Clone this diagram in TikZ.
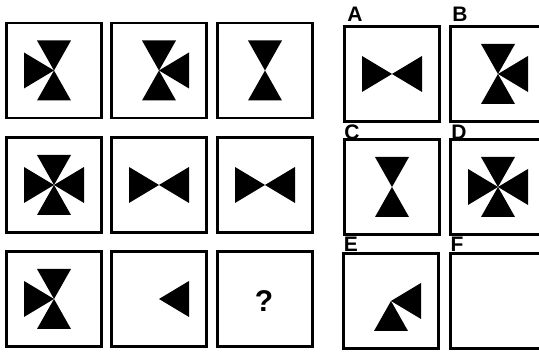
\documentclass[tikz,border=0pt]{standalone}
\usepackage{fontspec}
\setmainfont{Liberation Sans}
\usetikzlibrary{positioning}

% the four triangles round one apex
\tikzset{
  tritop/.pic={\fill (-17,-30) -- (17,-30) -- (0,0) -- cycle;},
  tribot/.pic={\fill (-17,30) -- (17,30) -- (0,0) -- cycle;},
  trileft/.pic={\fill (-30,-18) -- (-30,18) -- (0,0) -- cycle;},
  triright/.pic={\fill (30,-18) -- (30,18) -- (0,0) -- cycle;}
}

\begin{document}
\begin{tikzpicture}[x=1pt, y=-1pt,
  cell/.style={draw, line width=2.2pt, minimum size=95pt, inner sep=0pt},
  opt/.style={font=\bfseries\fontsize{21}{21}\selectfont, inner sep=0pt},
  ask/.style={font=\bfseries\fontsize{30}{30}\selectfont, inner sep=0pt}]
  \useasboundingbox (0,0) rectangle (539,352);
  \clip (0,0) rectangle (539,352);
  % the 3x3 grid
  \node[cell] (r1c1) at (54,70.5)  {};
  \node[cell] (r1c2) at (159,70.5) {};
  \node[cell] (r1c3) at (265,70.5) {};
  \node[cell] (r2c1) at (54,185)   {};
  \node[cell] (r2c2) at (159,185)  {};
  \node[cell] (r2c3) at (265,185)  {};
  \node[cell] (r3c1) at (54,299)   {};
  \node[cell] (r3c2) at (159,299)  {};
  \node[cell] (r3c3) at (265,299)  {};
  \node[ask]  (quest) at (264,301) {?};
  % row 1
  \pic at (r1c1.center) {tritop}; \pic at (r1c1.center) {tribot}; \pic at (r1c1.center) {trileft};
  \pic at (r1c2.center) {tritop}; \pic at (r1c2.center) {tribot}; \pic at (r1c2.center) {triright};
  \pic at (r1c3.center) {tritop}; \pic at (r1c3.center) {tribot};
  % row 2
  \pic at (r2c1.center) {tritop}; \pic at (r2c1.center) {tribot};
  \pic at (r2c1.center) {trileft}; \pic at (r2c1.center) {triright};
  \pic at (r2c2.center) {trileft}; \pic at (r2c2.center) {triright};
  \pic at (r2c3.center) {trileft}; \pic at (r2c3.center) {triright};
  % row 3
  \pic at (r3c1.center) {tritop}; \pic at (r3c1.center) {tribot}; \pic at (r3c1.center) {trileft};
  \pic at (r3c2.center) {triright};
  % the answers
  \node[cell] (ansA) at (392,74)  {};
  \node[cell] (ansB) at (498,74)  {};
  \node[cell] (ansC) at (392,187) {};
  \node[cell] (ansD) at (498,187) {};
  \node[cell] (ansE) at (391,301) {};
  \node[cell] (ansF) at (498,301) {};
  \node[opt] (labA) at (355,14)  {A};
  \node[opt] (labB) at (460,14)  {B};
  \node[opt] (labC) at (352,132) {C};
  \node[opt] (labD) at (459,132) {D};
  \node[opt] (labE) at (351,244.5) {E};
  \node[opt] (labF) at (457,244.5) {F};
  \pic at (ansA.center) {trileft}; \pic at (ansA.center) {triright};
  \pic at (ansB.center) {tritop}; \pic at (ansB.center) {tribot}; \pic at (ansB.center) {triright};
  \pic at (ansC.center) {tritop}; \pic at (ansC.center) {tribot};
  \pic at (ansD.center) {tritop}; \pic at (ansD.center) {tribot};
  \pic at (ansD.center) {trileft}; \pic at (ansD.center) {triright};
  \pic at (ansE.center) {tribot}; \pic at (ansE.center) {triright};
\end{tikzpicture}
\end{document}
